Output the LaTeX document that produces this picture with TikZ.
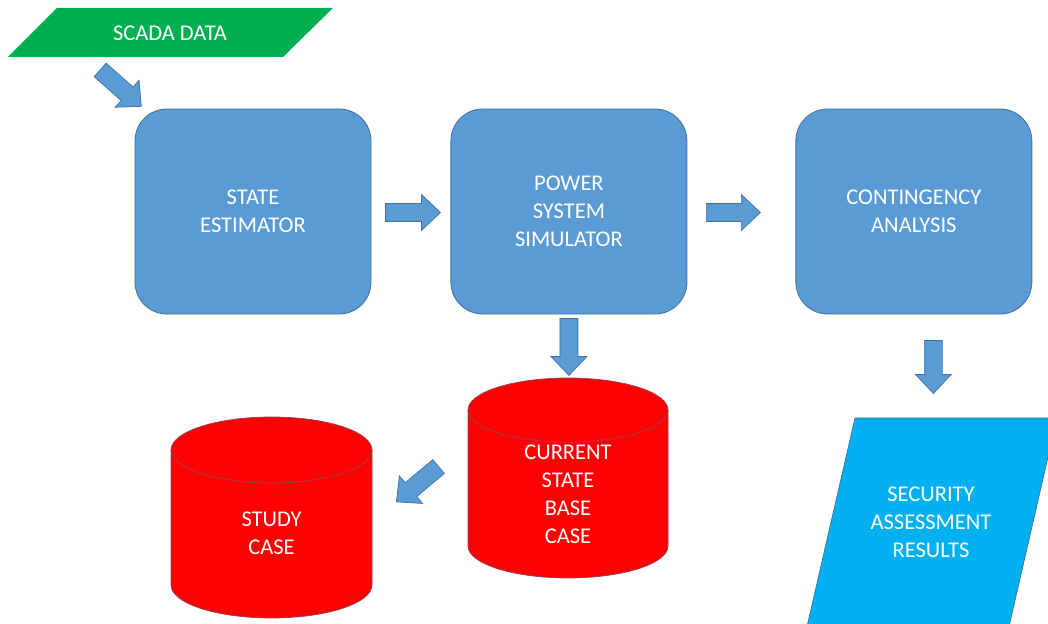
\documentclass[tikz,border=0pt]{standalone}
\usepackage{fontspec}
\setmainfont{Carlito}
\usetikzlibrary{positioning,calc}

\definecolor{boxblue}{RGB}{91,155,213}
\definecolor{edgeblue}{RGB}{65,113,156}
\definecolor{scadagreen}{RGB}{0,176,80}
\definecolor{dbred}{RGB}{255,0,0}
\definecolor{resultcyan}{RGB}{0,176,240}

\tikzset{
  txt/.style={text=white, align=center, font=\fontsize{16}{20}\selectfont},
  proc/.style={txt, rectangle, rounded corners=0.8cm, fill=boxblue, draw=edgeblue,
    line width=0.6pt, minimum width=5.9cm, minimum height=5.125cm, inner sep=0pt},
  dbase/.style={fill=dbred, draw=edgeblue!60!dbred, line width=0.5pt},
  pics/fatarrow/.style={code={
    \draw[fill=boxblue, draw=edgeblue, line width=0.5pt]
      (-#1/2,-9) -- (#1/2-19,-9) -- (#1/2-19,-18) -- (#1/2,0) -- (#1/2-19,18)
      -- (#1/2-19,9) -- (-#1/2,9) -- cycle;}}
}

\begin{document}
\begin{tikzpicture}[x=0.025cm, y=0.025cm]
    \clip (0,0) rectangle (1048,624);
    % input data
    \fill[scadagreen] (8,567) -- (283,567) -- (333,616) -- (57,616) -- cycle;
    \node[txt] (scada) at (170,591) {SCADA DATA};
    % processing chain
    \node[proc] (se) at (253,412.5) {STATE\\ESTIMATOR};
    \node[proc, right=1.975cm of se] (pss) {POWER\\SYSTEM\\SIMULATOR};
    \node[proc, right=2.7cm of pss] (ca) {CONTINGENCY\\ANALYSIS};
    % cases
    \path[dbase] (468,214) -- (468,78) arc[start angle=180, end angle=360, x radius=100, y radius=32]
        -- (668,214) arc[start angle=0, end angle=180, x radius=100, y radius=32] -- cycle;
    \draw[dbase, fill=none] (468,214) arc[start angle=180, end angle=360, x radius=100, y radius=32];
    \node[txt] (csb) at (568,129.5) {CURRENT\\STATE\\BASE\\CASE};
    \path[dbase] (171,174) -- (171,39) arc[start angle=180, end angle=360, x radius=100.5, y radius=33]
        -- (372,174) arc[start angle=0, end angle=180, x radius=100.5, y radius=33] -- cycle;
    \draw[dbase, fill=none] (171,174) arc[start angle=180, end angle=360, x radius=100.5, y radius=33];
    \node[txt] (study) at (271.5,91) {STUDY\\CASE};
    % results
    \filldraw[fill=resultcyan, draw=edgeblue, line width=0.5pt]
        (855,206) -- (1057,206) -- (1005,-20) -- (803,-20) -- cycle;
    \node[txt] (sar) at (931,102) {SECURITY\\ASSESSMENT\\RESULTS};
    % block arrows
    \pic[rotate=-41.5] at ($(se.north west)+(-13.8,20.4)$) {fatarrow=55};
    \pic at ($(se.east)+(41.5,-1)$) {fatarrow=55};
    \pic at ($(pss.east)+(46,-1)$) {fatarrow=54};
    \pic[rotate=-90] at ($(pss.south)+(0,-32.5)$) {fatarrow=57};
    \pic[rotate=-90] at ($(ca.south)+(19.5,-52.5)$) {fatarrow=53};
    \pic[rotate=220] at ($(csb)+(-150.5,10.3)$) {fatarrow=55};
\end{tikzpicture}
\end{document}
